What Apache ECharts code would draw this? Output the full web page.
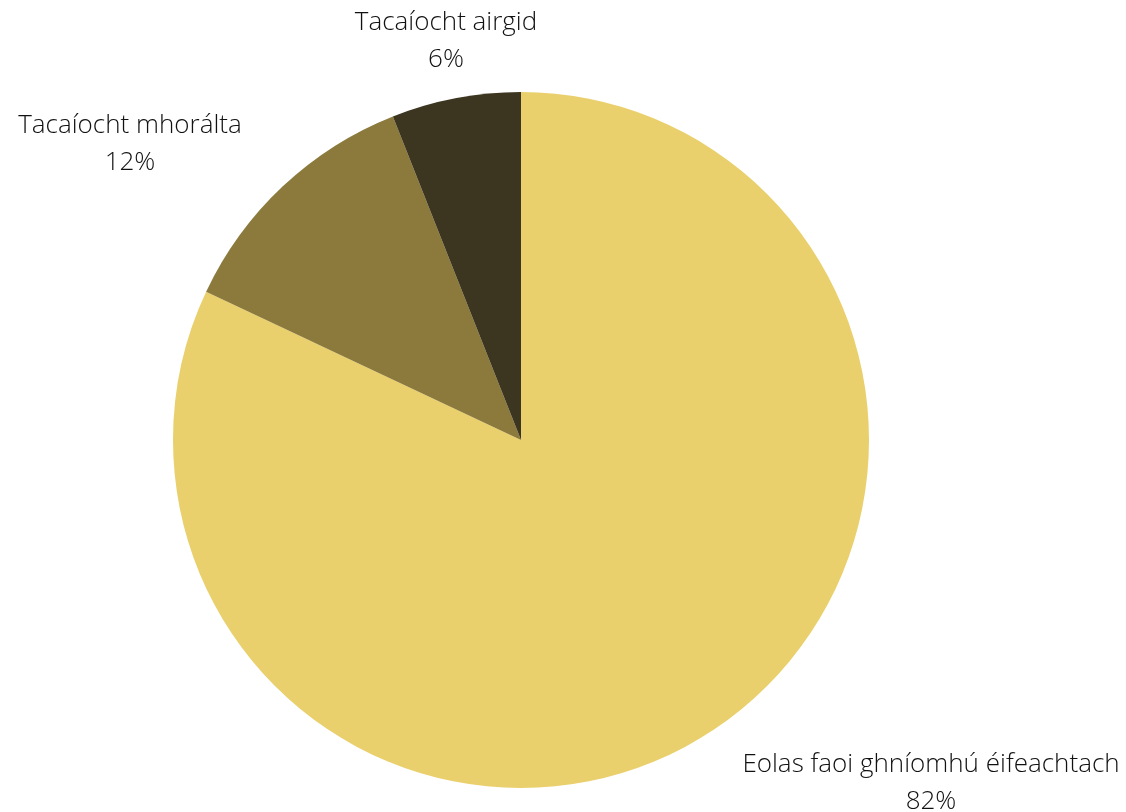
<!DOCTYPE html>
<html>
<head>
<meta charset="utf-8">
<script src="https://cdn.jsdelivr.net/npm/echarts@6/dist/echarts.min.js"></script>
<style>html,body{margin:0;padding:0;background:#fff}#c{width:1126px;height:812px}</style>
</head>
<body>
<div id="c"></div>
<script>
const categories = ['Eolas faoi ghníomhú éifeachtach', 'Tacaíocht mhorálta', 'Tacaíocht airgid'];
const values = [82, 12, 6];
const colors = ['#E9D06C', '#8B7A3C', '#3C3620'];
const labelCenters = [[931, 783], [130, 144], [446, 41]];

const chart = echarts.init(document.getElementById('c'));
chart.setOption({
  animation: false,
  series: [{
    type: 'pie',
    center: [521, 440],
    radius: 348,
    startAngle: 90,
    clockwise: true,
    data: categories.map((n, i) => ({ name: n, value: values[i], itemStyle: { color: colors[i] } })),
    label: {
      show: true,
      position: 'outside',
      formatter: p => p.name + '\n' + p.value + '%',
      fontFamily: 'Open Sans',
      fontWeight: 300,
      fontSize: 26,
      lineHeight: 37,
      color: '#111',
      align: 'center',
      overflow: 'none',
      width: 600
    },
    labelLine: { show: false },
    labelLayout: function (params) {
      const c = labelCenters[params.dataIndex];
      return { x: c[0], y: c[1], align: 'center', verticalAlign: 'middle' };
    }
  }]
});
</script>
</body>
</html>
